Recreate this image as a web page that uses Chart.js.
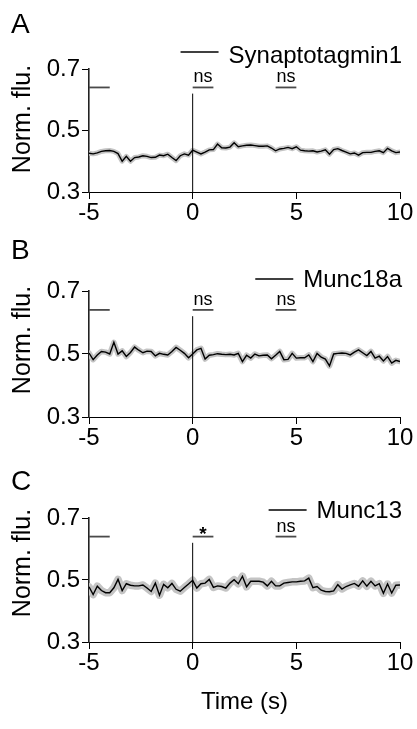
<!DOCTYPE html>
<html>
<head>
<meta charset="utf-8">
<script src="https://cdn.jsdelivr.net/npm/chart.js@4.4.0/dist/chart.umd.min.js"></script>
<style>
  html, body { margin: 0; padding: 0; background: #fff; }
  #fig { position: relative; width: 417px; height: 729px; overflow: hidden; }
  .panel { position: absolute; left: 0; width: 417px; }
  .panel canvas { display: block; }
</style>
</head>
<body>
<div id="fig">
  <div class="panel" style="top:0px;height:230px"><canvas id="panelA" width="417" height="230" style="width:417px;height:230px"></canvas></div>
  <div class="panel" style="top:230px;height:228px"><canvas id="panelB" width="417" height="228" style="width:417px;height:228px"></canvas></div>
  <div class="panel" style="top:458px;height:271px"><canvas id="panelC" width="417" height="271" style="width:417px;height:271px"></canvas></div>
</div>
<script>
// Sample times (s), 0.2 s apart, stimulus at t = 0
const timeS = [-5, -4.8, -4.6, -4.4, -4.2, -4, -3.8, -3.6, -3.4, -3.2,
  -3, -2.8, -2.6, -2.4, -2.2, -2, -1.8, -1.6, -1.4, -1.2,
  -1, -0.8, -0.6, -0.4, -0.2, 0, 0.2, 0.4, 0.6, 0.8,
  1, 1.2, 1.4, 1.6, 1.8, 2, 2.2, 2.4, 2.6, 2.8,
  3, 3.2, 3.4, 3.6, 3.8, 4, 4.2, 4.4, 4.6, 4.8,
  5, 5.2, 5.4, 5.6, 5.8, 6, 6.2, 6.4, 6.6, 6.8,
  7, 7.2, 7.4, 7.6, 7.8, 8, 8.2, 8.4, 8.6, 8.8,
  9, 9.2, 9.4, 9.6, 9.8, 10];

// Mean normalized fluorescence per protein
const synaptotagmin1 = [0.426, 0.424, 0.427, 0.432, 0.434, 0.435, 0.432, 0.425, 0.400, 0.416,
  0.400, 0.412, 0.414, 0.418, 0.416, 0.412, 0.413, 0.420, 0.418, 0.423,
  0.412, 0.402, 0.418, 0.424, 0.420, 0.436, 0.430, 0.424, 0.430, 0.437,
  0.438, 0.456, 0.444, 0.443, 0.446, 0.460, 0.447, 0.450, 0.452, 0.453,
  0.451, 0.449, 0.449, 0.450, 0.443, 0.434, 0.440, 0.442, 0.445, 0.441,
  0.447, 0.436, 0.434, 0.433, 0.434, 0.430, 0.433, 0.437, 0.423, 0.438,
  0.441, 0.435, 0.430, 0.424, 0.427, 0.420, 0.428, 0.429, 0.429, 0.432,
  0.434, 0.428, 0.442, 0.434, 0.428, 0.430];

const munc18a = [0.503, 0.482, 0.497, 0.508, 0.506, 0.500, 0.537, 0.500, 0.510, 0.492,
  0.505, 0.522, 0.512, 0.504, 0.509, 0.508, 0.494, 0.502, 0.499, 0.497,
  0.508, 0.521, 0.512, 0.502, 0.488, 0.500, 0.513, 0.518, 0.484, 0.496,
  0.498, 0.501, 0.499, 0.498, 0.499, 0.497, 0.502, 0.476, 0.496, 0.487,
  0.500, 0.494, 0.496, 0.497, 0.485, 0.496, 0.508, 0.482, 0.483, 0.502,
  0.487, 0.488, 0.488, 0.497, 0.476, 0.502, 0.490, 0.484, 0.462, 0.500,
  0.502, 0.503, 0.502, 0.497, 0.506, 0.513, 0.504, 0.495, 0.508, 0.487,
  0.493, 0.478, 0.492, 0.471, 0.480, 0.476];

const munc13 = [0.478, 0.453, 0.480, 0.466, 0.459, 0.459, 0.475, 0.502, 0.466, 0.488,
  0.483, 0.481, 0.481, 0.484, 0.474, 0.463, 0.490, 0.451, 0.486, 0.475,
  0.489, 0.470, 0.464, 0.476, 0.487, 0.499, 0.474, 0.488, 0.490, 0.502,
  0.476, 0.481, 0.479, 0.474, 0.490, 0.501, 0.488, 0.512, 0.478, 0.496,
  0.496, 0.496, 0.493, 0.481, 0.496, 0.481, 0.481, 0.490, 0.492, 0.494,
  0.494, 0.496, 0.497, 0.506, 0.475, 0.479, 0.467, 0.463, 0.462, 0.465,
  0.485, 0.471, 0.479, 0.484, 0.489, 0.480, 0.497, 0.480, 0.496, 0.481,
  0.488, 0.457, 0.487, 0.458, 0.483, 0.484];

// Axis ticks
const xTicks = [-5, 0, 5, 10];
const yTicks = [0.3, 0.5, 0.7];

// Comparison windows (s) and the level they are drawn at
const sigWindows = [[-5, -4], [0, 1], [4, 5]];
const sigLevel = 0.64;
const stimLine = [0.3, 0.62];
const sigLabelsA = ['', 'ns', 'ns'];
const sigLabelsB = ['', 'ns', 'ns'];
const sigLabelsC = ['', '*', 'ns'];

const FONT = '"Liberation Sans", Arial, Helvetica, sans-serif';

// Panel letters, legend, y/x titles and significance labels
const annotations = {
  id: 'annotations',
  afterDraw(chart, args, o) {
    const { ctx, chartArea: a, scales: { x, y } } = chart;
    ctx.save();
    ctx.fillStyle = '#000';

    // panel letter
    ctx.font = '28px ' + FONT;
    ctx.textAlign = 'left';
    ctx.textBaseline = 'alphabetic';
    ctx.fillText(o.letter, 11, o.letterY);

    // legend: sample line + series name, right aligned to the plot
    ctx.font = '24px ' + FONT;
    const w = ctx.measureText(o.name).width;
    const tx = a.right + 2 - w;
    ctx.fillText(o.name, tx, o.legendTextY);
    ctx.strokeStyle = '#000';
    ctx.lineWidth = 1.3;
    ctx.beginPath();
    ctx.moveTo(tx - 48, o.legendY);
    ctx.lineTo(tx - 10, o.legendY);
    ctx.stroke();

    // y title
    ctx.save();
    ctx.translate(23, a.top + o.yTitleOffset);
    ctx.rotate(-Math.PI / 2);
    ctx.textAlign = 'center';
    ctx.textBaseline = 'middle';
    ctx.font = '25px ' + FONT;
    ctx.fillText('Norm. flu.', 0, 0);
    ctx.restore();

    // x title (bottom panel only)
    if (o.xTitle) {
      ctx.font = '24px ' + FONT;
      ctx.textAlign = 'center';
      ctx.textBaseline = 'alphabetic';
      ctx.fillText(o.xTitle, (a.left + a.right) / 2, a.bottom + 67);
    }

    // significance labels above the comparison bars
    ctx.textAlign = 'center';
    const by = y.getPixelForValue(sigLevel);
    sigWindows.forEach((win, i) => {
      const lab = o.sig[i];
      if (!lab) return;
      const cx = (x.getPixelForValue(win[0]) + x.getPixelForValue(win[1])) / 2;
      if (lab === '*') {
        ctx.font = 'bold 19px ' + FONT;
        ctx.fillText(lab, cx, by + 3);
      } else {
        ctx.font = '18px ' + FONT;
        ctx.fillText(lab, cx, by - 5);
      }
    });
    ctx.restore();
  }
};

function makePanel(id, name, values, sig, letter, geom) {
  const pts = timeS.map((t, i) => ({ x: t, y: values[i] }));
  const datasets = [
    // SEM shading
    { data: pts, borderColor: '#c4c4c4', borderWidth: geom.band, pointRadius: 0,
      borderJoinStyle: 'round', borderCapStyle: 'round', order: 5 },
    // mean trace
    { data: pts, borderColor: '#000', borderWidth: 1.4, pointRadius: 0, order: 1 },
    // stimulus marker at t = 0
    { data: [{ x: 0, y: stimLine[0] }, { x: 0, y: stimLine[1] }],
      borderColor: '#000', borderWidth: 1, pointRadius: 0, order: 2 }
  ];
  sigWindows.forEach(win => {
    datasets.push({ data: [{ x: win[0], y: sigLevel }, { x: win[1], y: sigLevel }],
      borderColor: '#4a4a4a', borderWidth: 1.8, pointRadius: 0, order: 2 });
  });

  return new Chart(document.getElementById(id), {
    type: 'line',
    data: { datasets },
    options: {
      responsive: false,
      animation: false,
      events: [],
      layout: { padding: { top: geom.top, left: 0, right: 17, bottom: 0 } },
      plugins: {
        legend: { display: false },
        tooltip: { enabled: false },
        annotations: { letter, name, sig, letterY: geom.letterY, legendY: geom.legendY,
                       legendTextY: geom.legendTextY, yTitleOffset: geom.yTitleOffset,
                       xTitle: geom.xTitle }
      },
      scales: {
        x: {
          type: 'linear', min: -5, max: 10,
          afterBuildTicks: s => { s.ticks = xTicks.map(v => ({ value: v })); },
          afterFit: s => { s.height = geom.xh; },
          grid: { drawOnChartArea: false, drawTicks: true, tickLength: 7, color: '#000', lineWidth: 1 },
          border: { display: true, color: '#000', width: 1 },
          ticks: { color: '#000', font: { family: FONT, size: 24 }, padding: 0, maxRotation: 0,
                   callback: v => String(v) }
        },
        y: {
          min: 0.3, max: 0.7,
          afterBuildTicks: s => { s.ticks = yTicks.map(v => ({ value: v })); },
          afterFit: s => { s.width = 89; },
          grid: { drawOnChartArea: false, drawTicks: true, tickLength: 7, color: '#000', lineWidth: 1 },
          border: { display: true, color: '#222', width: 1.6 },
          ticks: { color: '#000', font: { family: FONT, size: 24 }, padding: 2,
                   callback: v => Number(v).toFixed(1) }
        }
      }
    },
    plugins: [annotations]
  });
}

makePanel('panelA', 'Synaptotagmin1', synaptotagmin1, sigLabelsA, 'A',
  { top: 69, xh: 38, letterY: 33, legendY: 52, legendTextY: 63, yTitleOffset: 50, band: 5 });
makePanel('panelB', 'Munc18a', munc18a, sigLabelsB, 'B',
  { top: 61, xh: 41, letterY: 29, legendY: 49, legendTextY: 57, yTitleOffset: 49, band: 5.5 });
makePanel('panelC', 'Munc13', munc13, sigLabelsC, 'C',
  { top: 60, xh: 87, letterY: 32, legendY: 52, legendTextY: 60, yTitleOffset: 45, band: 7.5, xTitle: 'Time (s)' });
</script>
</body>
</html>
